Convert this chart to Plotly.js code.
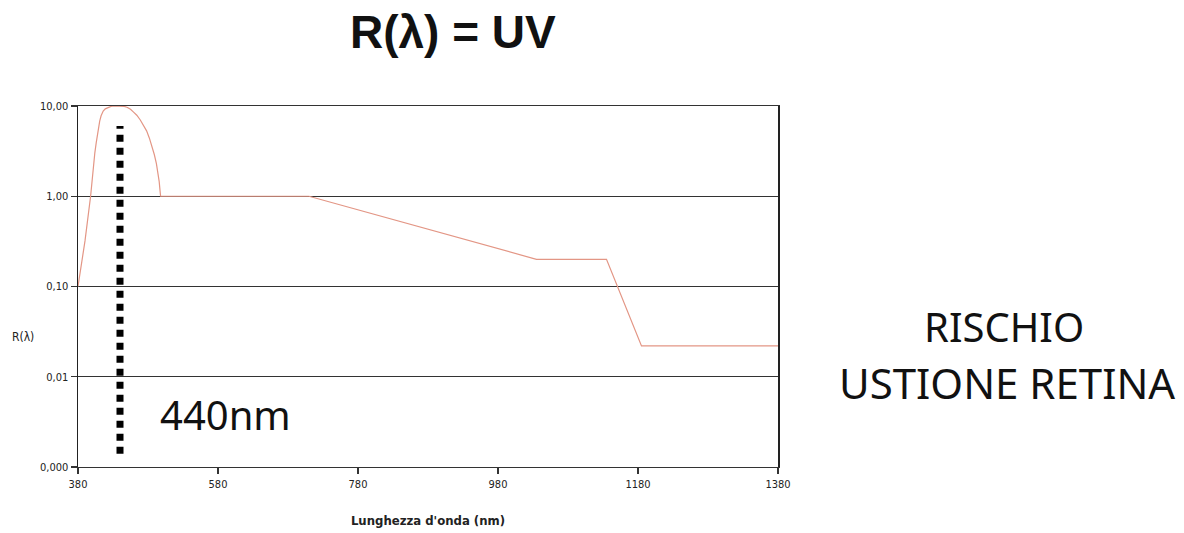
<!DOCTYPE html>
<html>
<head>
<meta charset="utf-8">
<script src="https://cdn.plot.ly/plotly-3.0.1.min.js"></script>
<style>html,body{margin:0;padding:0;background:#fff;}#chart{width:1184px;height:533px;}</style>
</head>
<body>
<div id="chart"></div>
<script>
// Data
const wavelength = [380, 390, 398, 400, 402, 404, 406, 408, 411, 413, 416, 419, 423, 427, 432, 437, 442, 446, 450, 455, 459, 464, 469, 474, 478, 482, 485, 489, 492, 494, 496, 497, 498, 710, 1035, 1135, 1185, 1380];
const rValues    = [0.1, 0.32, 1.0, 1.5, 2.2, 3.0, 3.9, 5.0, 6.8, 7.8, 8.8, 9.3, 9.7, 9.9, 10, 10, 10, 9.9, 9.7, 9.2, 8.6, 7.9, 7.0, 6.1, 5.3, 4.4, 3.7, 2.9, 2.3, 1.9, 1.45, 1.2, 1.0, 1.0, 0.2, 0.2, 0.022, 0.022];
const markerLambda = [440, 440];
const markerR = [0.0014, 6];
const xTicks = [380, 580, 780, 980, 1180, 1380];
const xTickLabels = ["380", "580", "780", "980", "1180", "1380"];
const yTicks = [0.001, 0.01, 0.1, 1, 10];
const yTickLabels = ["0,000", "0,01", "0,10", "1,00", "10,00"];

const narrow = "Liberation Sans Narrow, DejaVu Sans Condensed, Arial Narrow, sans-serif";

const traces = [
  {x: wavelength, y: rValues, type: 'scatter', mode: 'lines',
   line: {color: '#e39685', width: 1.2}, hoverinfo: 'skip'},
  {x: markerLambda, y: markerR, type: 'scatter', mode: 'lines',
   line: {color: '#000', width: 7, dash: '7px,6px'}, hoverinfo: 'skip'}
];

const layout = {
  width: 1184, height: 533,
  margin: {l: 78, r: 406, t: 106, b: 66},
  paper_bgcolor: '#fff', plot_bgcolor: '#fff',
  showlegend: false,
  xaxis: {
    range: [380, 1380], tickvals: xTicks, ticktext: xTickLabels,
    showgrid: false, zeroline: false,
    showline: true, linecolor: '#333', linewidth: 1.3, mirror: true,
    ticks: 'outside', ticklen: 6, tickcolor: '#333', tickwidth: 1.2,
    tickfont: {family: narrow, size: 11, color: '#222'},
    title: {text: "<b>Lunghezza d'onda (nm)</b>", font: {family: narrow, size: 13, color: '#222'}, standoff: 26}
  },
  yaxis: {
    type: 'log', range: [-3, 1], tickvals: yTicks, ticktext: yTickLabels,
    showgrid: true, gridcolor: '#333', gridwidth: 1.4,
    zeroline: false,
    showline: true, linecolor: '#222', linewidth: 1.5, mirror: true,
    ticks: 'outside', ticklen: 6, tickcolor: '#333', tickwidth: 1.2,
    tickfont: {family: narrow, size: 11, color: '#222'}
  },
  annotations: [
    {text: '<b>R(λ) = UV</b>', xref: 'paper', yref: 'paper', x: 0.535, y: 1.205,
     xanchor: 'center', yanchor: 'middle', showarrow: false,
     font: {family: 'Liberation Sans, Arial, sans-serif', size: 46, color: '#111'}},
    {text: 'R(λ)', xref: 'paper', yref: 'paper', x: -0.079, y: 0.36,
     xanchor: 'center', yanchor: 'middle', showarrow: false,
     font: {family: narrow, size: 12, color: '#222'}},
    {text: '440nm', xref: 'paper', yref: 'paper', x: 0.210, y: 0.145,
     xanchor: 'center', yanchor: 'middle', showarrow: false,
     font: {family: 'Noto Sans, sans-serif', size: 40, color: '#111'}},
    {text: 'RISCHIO', xref: 'paper', yref: 'paper', x: 1.323, y: 0.388,
     xanchor: 'center', yanchor: 'middle', showarrow: false,
     font: {family: 'Noto Sans, sans-serif', size: 40, color: '#111'}},
    {text: 'USTIONE RETINA', xref: 'paper', yref: 'paper', x: 1.327, y: 0.233,
     xanchor: 'center', yanchor: 'middle', showarrow: false,
     font: {family: 'Noto Sans, sans-serif', size: 42, color: '#111'}}
  ]
};

Plotly.newPlot('chart', traces, layout, {displayModeBar: false, staticPlot: true});
</script>
</body>
</html>
